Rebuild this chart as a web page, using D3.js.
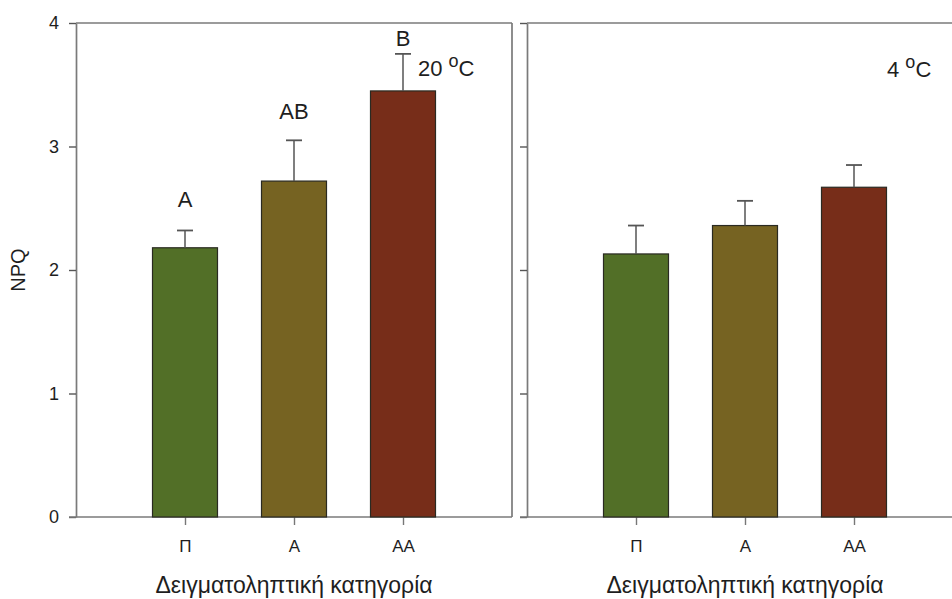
<!DOCTYPE html>
<html>
<head>
<meta charset="utf-8">
<script src="https://cdn.jsdelivr.net/npm/d3@7"></script>
<style>
  html, body { margin: 0; padding: 0; background: #fff; }
  svg { display: block; font-family: "Liberation Sans", Arial, sans-serif; }
</style>
</head>
<body>
<svg id="chart" width="952" height="599"></svg>
<script>
// Sampling categories and bar colours
const categories = ["Π", "A", "AA"];
const barColors = ["#526f27", "#766322", "#772d19"];

// NPQ means and error (top of whisker) per temperature
const means20 = [2.18, 2.72, 3.45];
const errTop20 = [2.32, 3.05, 3.75];
const letters20 = ["A", "AB", "B"];
// NPQ level at which each significance letter sits
const letterLevel20 = [2.51, 3.22, 3.81];

const means4 = [2.13, 2.36, 2.67];
const errTop4 = [2.36, 2.56, 2.85];

const yTicks = [0, 1, 2, 3, 4];
const yLabel = "NPQ";
const xLabel = "Δειγματοληπτική κατηγορία";

const svg = d3.select("#chart");
const axisColor = "#7a7a7a";
const textColor = "#1e1e1e";

const plotTop = 23, plotBottom = 517;
const panelW = 436;
const panels = [
  { x0: 76, means: means20, err: errTop20, letters: letters20, letterLevel: letterLevel20, temp: "20", showLabels: true, tempX: 418, tempY: 76 },
  { x0: 527, means: means4, err: errTop4, letters: null, temp: "4", showLabels: false, tempX: 887, tempY: 77 }
];

const y = d3.scaleLinear().domain([0, 4]).range([plotBottom, plotTop]);

panels.forEach(p => {
  const g = svg.append("g");
  const x = d3.scalePoint().domain(categories).range([p.x0, p.x0 + panelW]).padding(1);
  const barW = 65;

  // frame: top and right edges
  g.append("line").attr("x1", p.x0).attr("x2", p.x0 + panelW).attr("y1", plotTop).attr("y2", plotTop)
    .attr("stroke", axisColor).attr("stroke-width", 1.7);
  g.append("line").attr("x1", p.x0 + panelW).attr("x2", p.x0 + panelW).attr("y1", plotTop).attr("y2", plotBottom)
    .attr("stroke", axisColor).attr("stroke-width", 1.7);

  // y axis
  const ya = d3.axisLeft(y).tickValues(yTicks).tickSize(7).tickSizeOuter(0)
    .tickFormat(p.showLabels ? d3.format("d") : () => "");
  const yg = g.append("g").attr("transform", `translate(${p.x0},0)`).call(ya);
  yg.attr("font-size", null).attr("font-family", null);
  yg.select(".domain").attr("stroke", axisColor).attr("stroke-width", 1.7);
  yg.selectAll(".tick line").attr("stroke", "#555").attr("stroke-width", 1.4);
  yg.selectAll(".tick text").attr("font-size", 18).attr("fill", textColor).attr("x", -17);

  // x axis
  const xa = d3.axisBottom(x).tickSize(8).tickSizeOuter(0);
  const xg = g.append("g").attr("transform", `translate(0,${plotBottom})`).call(xa);
  xg.attr("font-size", null).attr("font-family", null);
  xg.select(".domain").attr("stroke", axisColor).attr("stroke-width", 1.7)
    .attr("d", `M${p.x0 - 7},0H${p.x0 + panelW}`);
  xg.selectAll(".tick line").attr("stroke", "#777").attr("stroke-width", 1.4);
  xg.selectAll(".tick text").attr("font-size", 17).attr("fill", textColor).attr("y", 23);

  // bars
  g.selectAll("rect.bar").data(categories).enter().append("rect")
    .attr("class", "bar")
    .attr("x", d => x(d) - barW / 2)
    .attr("width", barW)
    .attr("y", (d, i) => y(p.means[i]))
    .attr("height", (d, i) => y(0) - y(p.means[i]))
    .attr("fill", (d, i) => barColors[i])
    .attr("stroke", "#2a2a22").attr("stroke-width", 1.2);

  // error bars (upper whisker)
  categories.forEach((c, i) => {
    const cx = x(c);
    g.append("line").attr("x1", cx).attr("x2", cx)
      .attr("y1", y(p.means[i])).attr("y2", y(p.err[i]))
      .attr("stroke", "#555").attr("stroke-width", 1.5);
    g.append("line").attr("x1", cx - 8).attr("x2", cx + 8)
      .attr("y1", y(p.err[i])).attr("y2", y(p.err[i]))
      .attr("stroke", "#555").attr("stroke-width", 1.8);
    if (p.letters) {
      g.append("text").attr("x", cx).attr("y", y(p.letterLevel[i]))
        .attr("text-anchor", "middle").attr("font-size", 22).attr("fill", textColor)
        .text(p.letters[i]);
    }
  });

  // temperature label
  const t = g.append("text").attr("x", p.tempX).attr("y", p.tempY)
    .attr("font-size", 22).attr("fill", textColor);
  t.append("tspan").text(p.temp + " ");
  t.append("tspan").attr("dy", -9).attr("font-size", 18).text("o");
  t.append("tspan").attr("dy", 9).text("C");

  // x-axis title
  g.append("text").attr("x", p.x0 + panelW / 2).attr("y", 593)
    .attr("text-anchor", "middle").attr("font-size", 23).attr("fill", textColor)
    .text(xLabel);
});

// y-axis title
svg.append("text")
  .attr("transform", `translate(25,${(plotTop + plotBottom) / 2}) rotate(-90)`)
  .attr("text-anchor", "middle").attr("font-size", 20).attr("fill", textColor)
  .text(yLabel);
</script>
</body>
</html>
